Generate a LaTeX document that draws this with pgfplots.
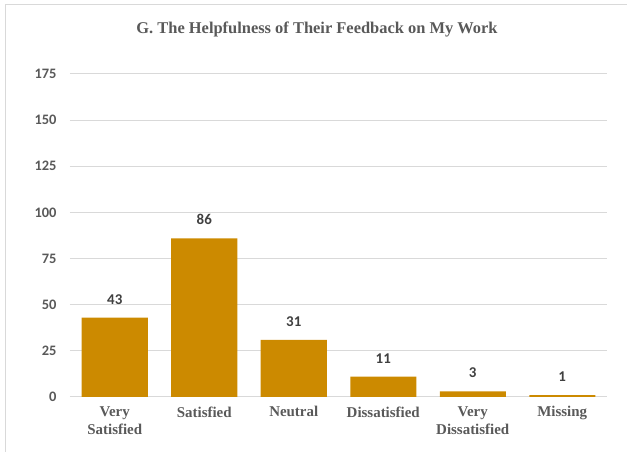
\documentclass[border=0pt]{standalone}
\usepackage{pgfplots}
\pgfplotsset{compat=1.18}
\usepackage{fontspec}
\setmainfont{Liberation Serif}
\newfontfamily\calfont{Carlito}
\definecolor{barc}{HTML}{CC8A00}
\definecolor{gridc}{HTML}{D9D9D9}
\definecolor{txtc}{HTML}{595959}
\definecolor{lblc}{HTML}{404040}
\begin{document}
\begin{tikzpicture}
\path[use as bounding box] (0,0) rectangle (627bp,452bp);
\draw[gridc, line width=1bp] (5bp,0) -- (5bp,447bp) -- (627bp,447bp);
\node[font=\bfseries\fontsize{16.5}{18}\selectfont, text=txtc] at (317bp,423bp) {G. The Helpfulness of Their Feedback on My Work};
\begin{axis}[
  at={(70bp,55bp)}, anchor=south west,
  scale only axis, width=537bp, height=323bp,
  xmin=-0.5, xmax=5.5, ymin=0, ymax=175,
  ytick={0,25,50,75,100,125,150,175},
  xtick=data,
  xticklabels={{Very\\Satisfied},Satisfied,Neutral,Dissatisfied,{Very\\Dissatisfied},Missing},
  axis line style={draw=none},
  major tick length=0pt,
  ymajorgrids, grid style={gridc, line width=1bp},
  /pgf/number format/assume math mode=true,
  yticklabel style={font=\calfont\bfseries\fontsize{14.5}{16}\selectfont, text=txtc, anchor=east, xshift=-10bp},
  xticklabel style={font=\bfseries\fontsize{15}{18}\selectfont, text=txtc, align=center, anchor=north, yshift=-6bp},
  ybar, bar width=66bp,
  nodes near coords,
  nodes near coords style={font=\calfont\bfseries\fontsize{15}{17}\selectfont, text=lblc, anchor=south, yshift=10bp},
  clip=false,
]
\addplot[fill=barc, draw=none] coordinates {(0,43) (1,86) (2,31) (3,11) (4,3) (5,1)};
\end{axis}
\end{tikzpicture}
\end{document}
